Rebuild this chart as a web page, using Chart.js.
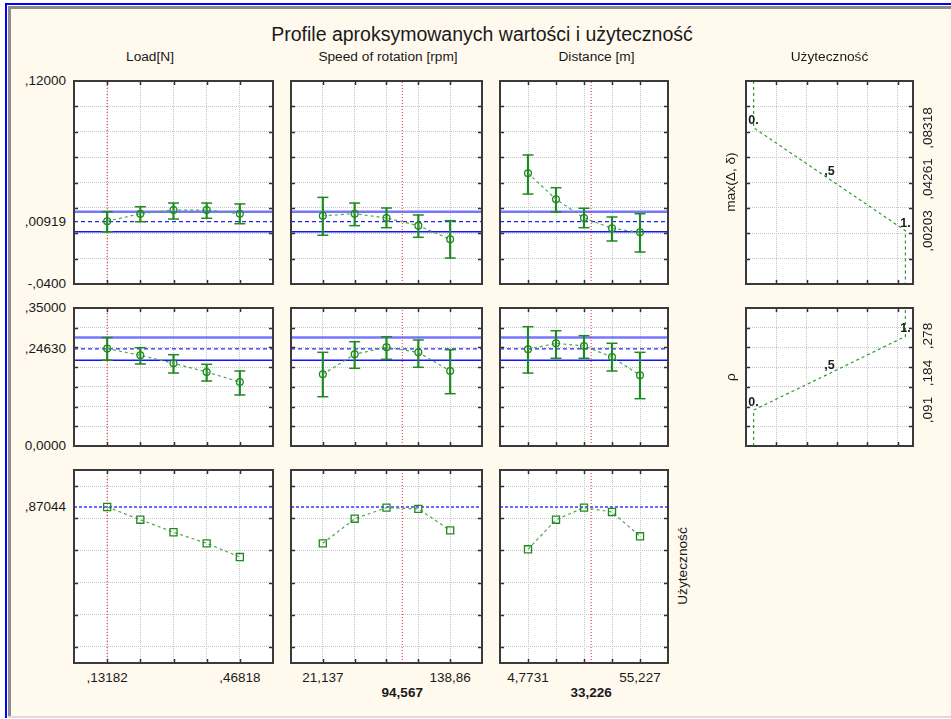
<!DOCTYPE html>
<html><head><meta charset="utf-8">
<script src="https://cdn.jsdelivr.net/npm/chart.js@4.4.1/dist/chart.umd.min.js"></script>
<style>
html,body{margin:0;padding:0;background:#fff;}
#page{position:relative;width:951px;height:719px;overflow:hidden;background:#fff;font-family:"Liberation Sans",Arial,sans-serif;color:#1a1a1a;}
#blue{position:absolute;left:5px;top:3px;right:0;height:713px;border-left:2px solid #0000ff;border-top:2px solid #0000ff;background:#fff;}
#gray{position:absolute;left:8px;top:6px;right:0;height:707px;border-left:3px solid #8c8c8c;border-top:3px solid #8c8c8c;background:#fff9ee;}
#bot{position:absolute;left:8px;top:716px;right:0;height:2px;background:#dcdcdc;}
canvas{position:absolute;}
.t{position:absolute;white-space:nowrap;line-height:1;}
</style></head>
<body><div id="page"><div id="blue"></div><div id="gray"></div><div id="bot"></div></div>
<script>
// ---------- factor levels ----------
const loadLevels  = [0.13182, 0.21591, 0.30000, 0.38409, 0.46818];
const speedLevels = [21.137, 50.568, 79.998, 109.429, 138.86];
const distLevels  = [4.7731, 17.3866, 30.0001, 42.6136, 55.227];
const currentSettings = [0.13182, 94.567, 33.226];
const levelTickLabels = [[',13182', ',46818'], ['21,137', '138,86'], ['4,7731', '55,227']];
const currentTickLabels = ['', '94,567', '33,226'];
const columnTitles = ['Load[N]', 'Speed of rotation [rpm]', 'Distance [m]', 'Użyteczność'];

// ---------- response 1: max(Δ, δ) ----------
const r1Pred = 0.00919, r1Lo = 0.0012, r1Hi = 0.0170;
const r1Load     = [0.0095, 0.0154, 0.0183, 0.0183, 0.0154];
const r1LoadLo   = [0.0012, 0.0091, 0.0112, 0.0118, 0.0075];
const r1LoadHi   = [0.0170, 0.0209, 0.0238, 0.0238, 0.0231];
const r1Speed    = [0.0138, 0.0154, 0.0120, 0.0060, -0.0048];
const r1SpeedLo  = [-0.0016, 0.0060, 0.0044, -0.0032, -0.0195];
const r1SpeedHi  = [0.0283, 0.0238, 0.0199, 0.0144, 0.0099];
const r1Dist     = [0.0473, 0.0268, 0.0120, 0.0039, 0.0007];
const r1DistLo   = [0.0309, 0.0167, 0.0044, -0.0061, -0.0148];
const r1DistHi   = [0.0617, 0.0359, 0.0197, 0.0128, 0.0154];
const r1TickVals = [0.12, 0.00919, -0.04];
const r1TickText = [',12000', ',00919', '-,0400'];

// ---------- response 2: ρ ----------
const r2Pred = 0.2463, r2Lo = 0.2176, r2Hi = 0.2750;
const r2Load     = [0.2470, 0.2300, 0.2097, 0.1877, 0.1623];
const r2LoadLo   = [0.2176, 0.2080, 0.1851, 0.1649, 0.1294];
const r2LoadHi   = [0.2750, 0.2493, 0.2316, 0.2072, 0.1902];
const r2Speed    = [0.1818, 0.2326, 0.2503, 0.2376, 0.1902];
const r2SpeedLo  = [0.1250, 0.1970, 0.2199, 0.1996, 0.1327];
const r2SpeedHi  = [0.2376, 0.2645, 0.2772, 0.2688, 0.2442];
const r2Dist     = [0.2453, 0.2605, 0.2536, 0.2257, 0.1793];
const r2DistLo   = [0.1851, 0.2224, 0.2224, 0.1902, 0.1200];
const r2DistHi   = [0.3026, 0.2924, 0.2798, 0.2605, 0.2376];
const r2TickVals = [0.35, 0.2463, 0];
const r2TickText = [',35000', ',24630', '0,0000'];

// ---------- overall desirability ----------
const dCurrent = 0.87044;
const dLoad  = [0.870, 0.791, 0.713, 0.644, 0.559];
const dSpeed = [0.644, 0.797, 0.866, 0.858, 0.725];
const dDist  = [0.607, 0.791, 0.866, 0.839, 0.688];
const dTickVals = [0.87044];
const dTickText = [',87044'];

// ---------- desirability functions ----------
const u1D = [0, 0, 0.5, 1, 1];
const u1V = [0.12, 0.08318, 0.04261, 0.00203, -0.04];
const u1Marks = ['0.', ',5', '1.'];
const u1TickVals = [0.00203, 0.04261, 0.08318];
const u1TickText = [',00203', ',04261', ',08318'];
const u2D = [0, 0, 0.5, 1, 1];
const u2V = [0, 0.091, 0.184, 0.278, 0.35];
const u2Marks = ['0.', ',5', '1.'];
const u2TickVals = [0.091, 0.184, 0.278];
const u2TickText = [',091', ',184', ',278'];

// ---------- layout ----------
const page = document.getElementById('page');
const colX = [[74, 273], [291, 482], [500, 668], [746, 913]];
const rowY = [[81, 284], [308, 446], [470, 663]];
const rowScale = [
  {min: -0.04, max: 0.12, grid: [-0.02, 0, 0.02, 0.04, 0.06, 0.08, 0.10]},
  {min: 0, max: 0.35, grid: [0.05, 0.10, 0.15, 0.20, 0.25, 0.30]},
  {min: -0.1, max: 1.1, grid: [0, 0.2, 0.4, 0.6, 0.8, 1.0]}
];
const utilScale = {min: -0.05, max: 1.05, grid: [0.15, 0.35, 0.55, 0.75, 0.95]};

const GREEN = '#1f8a1f', GREEN_L = '#4fa84f';

function txt(s, x, y, o = {}) {
  const d = document.createElement('div');
  d.className = 't';
  d.textContent = s;
  d.style.left = x + 'px'; d.style.top = y + 'px';
  d.style.fontSize = (o.size || 13.5) + 'px';
  if (o.bold) d.style.fontWeight = 'bold';
  let tr = o.anchor === 'r' ? 'translate(-100%,-50%)' : 'translate(-50%,-50%)';
  if (o.rot) tr += ' rotate(-90deg)';
  d.style.transform = tr;
  page.appendChild(d);
}

const bgPlugin = {id: 'bg', beforeDraw(ch) {
  const a = ch.chartArea, c = ch.ctx; c.save(); c.fillStyle = '#fff';
  c.fillRect(a.left, a.top, a.right - a.left, a.bottom - a.top); c.restore(); }};
const framePlugin = {id: 'frame', afterDraw(ch) {
  const {ctx, chartArea: a} = ch; const sx = ch.scales.x, sy = ch.scales.y;
  ctx.save(); ctx.strokeStyle = '#303030'; ctx.lineWidth = 1.5; ctx.beginPath();
  sx.ticks.forEach(t => { const p = Math.round(sx.getPixelForValue(t.value)) + 0.5;
    ctx.moveTo(p, a.top); ctx.lineTo(p, a.top + 4); ctx.moveTo(p, a.bottom); ctx.lineTo(p, a.bottom - 4); });
  sy.ticks.forEach(t => { const p = Math.round(sy.getPixelForValue(t.value)) + 0.5;
    ctx.moveTo(a.left, p); ctx.lineTo(a.left + 4, p); ctx.moveTo(a.right, p); ctx.lineTo(a.right - 4, p); });
  ctx.stroke();
  ctx.lineWidth = 2; ctx.strokeStyle = '#3a3a3a';
  ctx.strokeRect(a.left, a.top, a.right - a.left, a.bottom - a.top);
  ctx.restore(); }};

function axis(cfg, dir) {
  return {type: 'linear', min: cfg.min, max: cfg.max, offset: false,
    afterBuildTicks: s => { s.ticks = cfg.grid.map(v => ({value: v})); },
    afterFit: s => { if (dir === 'x') s.height = 0; else s.width = 0; },
    ticks: {display: false},
    grid: {color: '#c6c6c6', lineWidth: 1, drawTicks: false, offset: false},
    border: {display: false, dash: [1, 1]}};
}

function panel(xr, yr, xCfg, yCfg, datasets) {
  const c = document.createElement('canvas');
  const W = xr[1] - xr[0] + 2, H = yr[1] - yr[0] + 2;
  c.width = W; c.height = H;
  c.style.left = (xr[0] - 1) + 'px'; c.style.top = (yr[0] - 1) + 'px';
  c.style.width = W + 'px'; c.style.height = H + 'px';
  page.appendChild(c);
  const ch = new Chart(c, {type: 'scatter', data: {datasets},
    options: {responsive: false, animation: false, devicePixelRatio: 1, events: [],
      layout: {padding: 1, autoPadding: false},
      plugins: {legend: {display: false}, tooltip: {enabled: false}},
      scales: {x: axis(xCfg, 'x'), y: axis(yCfg, 'y')}},
    plugins: [bgPlugin, framePlugin]});
  ch._ox = xr[0] - 1; ch._oy = yr[0] - 1;
  return ch;
}
const hline = (x0, x1, y, color, w, dash) => ({type: 'line', data: [{x: x0, y}, {x: x1, y}],
  borderColor: color, borderWidth: w, borderDash: dash || [], pointRadius: 0});

function respDatasets(levels, pred, lo, hi, ref, xc, yc, cur, marker) {
  const ds = [];
  ds.push({type: 'line', data: levels.map((x, i) => ({x, y: pred[i]})),
    borderColor: GREEN_L, borderWidth: 1.2, borderDash: [3, 3],
    pointStyle: marker, pointRadius: marker === 'rect' ? 5 : 3.4,
    pointBorderColor: GREEN, pointBackgroundColor: 'rgba(0,0,0,0)', pointBorderWidth: 1.3});
  if (lo) {
    ds.push({type: 'line', showLine: false,
      data: levels.map((x, i) => ({x, y: lo[i]})).concat(levels.map((x, i) => ({x, y: hi[i]}))),
      pointStyle: 'line', pointRadius: 5.5, pointBorderWidth: 1.5, pointBorderColor: GREEN});
    ds.push({type: 'bar', grouped: false, barThickness: 1.5, borderWidth: 0, backgroundColor: GREEN,
      data: levels.map((x, i) => ({x, y: [lo[i], hi[i]]}))});
  }
  ds.push({type: 'line', data: [{x: cur, y: yc.min}, {x: cur, y: yc.max}],
    borderColor: '#e82828', borderWidth: 1, borderDash: [1, 2], pointRadius: 0});
  if (ref.lo !== undefined) {
    ds.push(hline(xc.min, xc.max, ref.pred, '#2424ff', 1.4, [4, 3]));
    ds.push(hline(xc.min, xc.max, ref.hi, '#7676ff', 2.4));
    ds.push(hline(xc.min, xc.max, ref.lo, '#1414ff', 1.4));
  } else {
    ds.push(hline(xc.min, xc.max, ref.pred, '#6a6aff', 2, [3, 2]));
  }
  return ds;
}

const levelsAll = [loadLevels, speedLevels, distLevels];
const rowsData = [
  {ref: {pred: r1Pred, lo: r1Lo, hi: r1Hi}, pred: [r1Load, r1Speed, r1Dist],
   lo: [r1LoadLo, r1SpeedLo, r1DistLo], hi: [r1LoadHi, r1SpeedHi, r1DistHi],
   tv: r1TickVals, tt: r1TickText, marker: 'circle'},
  {ref: {pred: r2Pred, lo: r2Lo, hi: r2Hi}, pred: [r2Load, r2Speed, r2Dist],
   lo: [r2LoadLo, r2SpeedLo, r2DistLo], hi: [r2LoadHi, r2SpeedHi, r2DistHi],
   tv: r2TickVals, tt: r2TickText, marker: 'circle'},
  {ref: {pred: dCurrent}, pred: [dLoad, dSpeed, dDist], lo: [null, null, null], hi: [null, null, null],
   tv: dTickVals, tt: dTickText, marker: 'rect'}
];

rowsData.forEach((rd, r) => {
  for (let c = 0; c < 3; c++) {
    const lv = levelsAll[c];
    const step = (lv[4] - lv[0]) / 4;
    const xc = {min: lv[0] - step, max: lv[4] + step, grid: lv};
    const yc = rowScale[r];
    const ch = panel(colX[c], rowY[r], xc, yc,
      respDatasets(lv, rd.pred[c], rd.lo[c], rd.hi[c], rd.ref, xc, yc, currentSettings[c], rd.marker));
    if (c === 0) {
      rd.tv.forEach((v, i) => txt(rd.tt[i], 66, ch._oy + ch.scales.y.getPixelForValue(v), {anchor: 'r'}));
    }
    if (r === 2) {
      const sx = ch.scales.x;
      txt(levelTickLabels[c][0], ch._ox + sx.getPixelForValue(lv[0]), 678);
      txt(levelTickLabels[c][1], ch._ox + sx.getPixelForValue(lv[4]), 678);
      if (currentTickLabels[c]) txt(currentTickLabels[c], ch._ox + sx.getPixelForValue(currentSettings[c]), 693, {bold: true});
    }
  }
});

// desirability function panels
[[u1D, u1V, u1Marks, u1TickVals, u1TickText, 0], [u2D, u2V, u2Marks, u2TickVals, u2TickText, 1]].forEach(([D, V, M, tv, tt, r]) => {
  const ch = panel(colX[3], rowY[r], utilScale, rowScale[r], [
    {type: 'line', data: D.map((x, i) => ({x, y: V[i]})), borderColor: '#2f9a2f', borderWidth: 1.2,
     borderDash: [3, 3], pointRadius: 0}]);
  const sx = ch.scales.x, sy = ch.scales.y;
  [1, 2, 3].forEach((k, i) => txt(M[i], ch._ox + sx.getPixelForValue(D[k]), ch._oy + sy.getPixelForValue(V[k]) - 8, {bold: true, size: 12.5}));
  tv.forEach((v, i) => txt(tt[i], 928, ch._oy + sy.getPixelForValue(v), {rot: true}));
});

// titles
txt('Profile aproksymowanych wartości i użyteczność', 482, 35, {size: 19.5});
txt(columnTitles[0], 150, 57, {size: 13.7});
txt(columnTitles[1], 388, 57, {size: 13.7});
txt(columnTitles[2], 596.5, 57, {size: 13.7});
txt(columnTitles[3], 829.5, 57, {size: 13.7});
txt('max(Δ, δ)', 731, 182, {size: 13.7, rot: true});
txt('ρ', 731, 377, {size: 13.7, rot: true});
txt('Użyteczność', 683, 566, {size: 13.7, rot: true});
</script>
</body></html>
